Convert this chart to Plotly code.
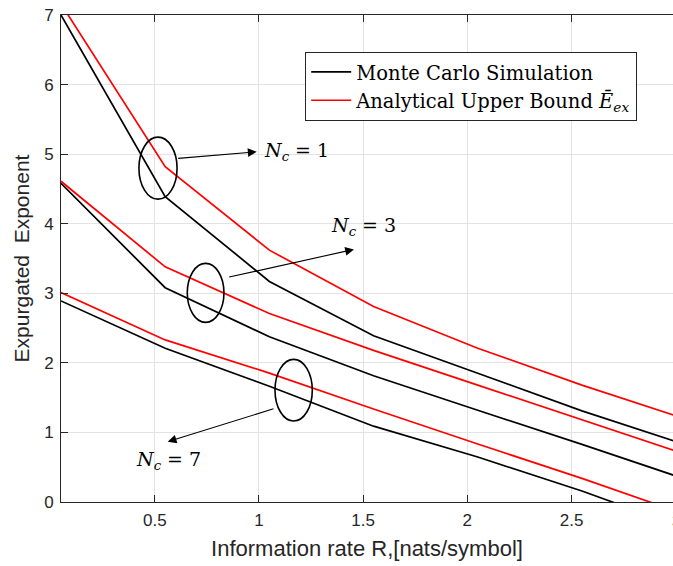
import plotly.graph_objects as go

# ---- data ----
rate = [0.05, 0.55, 1.05, 1.55, 2.05, 2.55, 3.0]

mc_nc1 = [7.00, 4.39, 3.17, 2.39, 1.85, 1.31, 0.87]
ub_nc1 = [7.16, 4.82, 3.62, 2.81, 2.21, 1.68, 1.24]

mc_nc3 = [4.58, 3.08, 2.375, 1.815, 1.318, 0.828, 0.375]
ub_nc3 = [4.61, 3.38, 2.71, 2.18, 1.68, 1.18, 0.734]

mc_nc7 = [2.89, 2.21, 1.663, 1.09, 0.647, 0.158, -0.33]
ub_nc7 = [3.01, 2.33, 1.853, 1.337, 0.833, 0.34, -0.13]

x_ticks = [0.5, 1, 1.5, 2, 2.5, 3]
y_ticks = [0, 1, 2, 3, 4, 5, 6, 7]

mc_name = "Monte Carlo Simulation"
ub_name = "Analytical Upper Bound <i>Ē</i><sub><i>ex</i></sub>"

BLACK = "#000000"
RED = "#ff0000"
AXC = "#262626"
GRID = "#e3e3e3"
SANS = "Liberation Sans, Arial, sans-serif"
SERIF = "DejaVu Serif, serif"

fig = go.Figure()
series = [
    (mc_nc1, BLACK, mc_name, True),
    (ub_nc1, RED, ub_name, True),
    (mc_nc3, BLACK, mc_name, False),
    (ub_nc3, RED, ub_name, False),
    (mc_nc7, BLACK, mc_name, False),
    (ub_nc7, RED, ub_name, False),
]
for ys, col, name, show in series:
    fig.add_trace(go.Scatter(
        x=rate, y=ys, mode="lines", name=name,
        legendgroup=col, showlegend=show,
        line=dict(color=col, width=1.7),
    ))

# ellipses around curve pairs
ellipses = [
    (0.424, 4.353, 0.607, 5.244),
    (0.656, 2.582, 0.832, 3.430),
    (1.077, 1.164, 1.256, 2.050),
]
for x0, y0, x1, y1 in ellipses:
    fig.add_shape(type="circle", xref="x", yref="y", x0=x0, y0=y0, x1=x1, y1=y1,
                  line=dict(color=BLACK, width=1.6))

# arrows (tail -> head)
arrows = [
    ((0.605, 4.938), (0.989, 5.033)),
    ((0.850, 3.228), (1.456, 3.631)),
    ((1.077, 1.346), (0.562, 0.866)),
]
for (tx, ty), (hx, hy) in arrows:
    fig.add_annotation(x=hx, y=hy, ax=tx, ay=ty, xref="x", yref="y",
                       axref="x", ayref="y", text="", showarrow=True,
                       arrowhead=2, arrowsize=1.6, arrowwidth=1.1,
                       arrowcolor=BLACK)

labels = [
    (1.015, 5.04, "<i>N</i><sub><i>c</i></sub> = 1"),
    (1.335, 3.966, "<i>N</i><sub><i>c</i></sub> = 3"),
    (0.40, 0.603, "<i>N</i><sub><i>c</i></sub> = 7"),
]
for lx, ly, txt in labels:
    fig.add_annotation(x=lx, y=ly, xref="x", yref="y", text=txt, showarrow=False,
                       xanchor="left", yanchor="middle",
                       font=dict(family=SERIF, size=19, color=BLACK))

# partially visible "3" tick label at right edge
fig.add_annotation(x=1 + 3.4 / 612, y=0, xref="paper", yref="paper", text="3",
                   showarrow=False, xanchor="center", yanchor="top", yshift=-8,
                   font=dict(family=SANS, size=17, color=AXC))

fig.update_layout(
    width=673, height=566,
    margin=dict(l=61, r=0, t=15, b=64),
    paper_bgcolor="white", plot_bgcolor="white",
    font=dict(family=SANS, size=17, color=AXC),
    showlegend=True,
    legend=dict(x=0.399, y=0.9246, xanchor="left", yanchor="top",
                bgcolor="white", bordercolor=AXC, borderwidth=1,
                font=dict(family=SERIF, size=19.5, color=BLACK),
                tracegroupgap=0, itemwidth=40),
    xaxis=dict(range=[0.05, 2.987], tickvals=x_ticks,
               ticktext=[str(v) for v in x_ticks],
               showgrid=True, gridcolor=GRID, gridwidth=1,
               showline=True, linecolor=AXC, linewidth=1, mirror="ticks",
               ticks="inside", ticklen=7, tickcolor=AXC, zeroline=False,
               ticklabelstandoff=3,
               tickfont=dict(family=SANS, size=17, color=AXC),
               title=dict(text="Information rate R,[nats/symbol]", standoff=11,
                          font=dict(family=SANS, size=22, color=AXC))),
    yaxis=dict(range=[0, 7], tickvals=y_ticks,
               showgrid=True, gridcolor=GRID, gridwidth=1,
               showline=True, linecolor=AXC, linewidth=1,
               ticks="inside", ticklen=7, tickcolor=AXC, zeroline=False,
               ticklabelstandoff=3,
               tickfont=dict(family=SANS, size=17, color=AXC),
               title=dict(text="Expurgated  Exponent", standoff=8,
                          font=dict(family=SANS, size=21, color=AXC))),
)

fig.write_html("out.html")
